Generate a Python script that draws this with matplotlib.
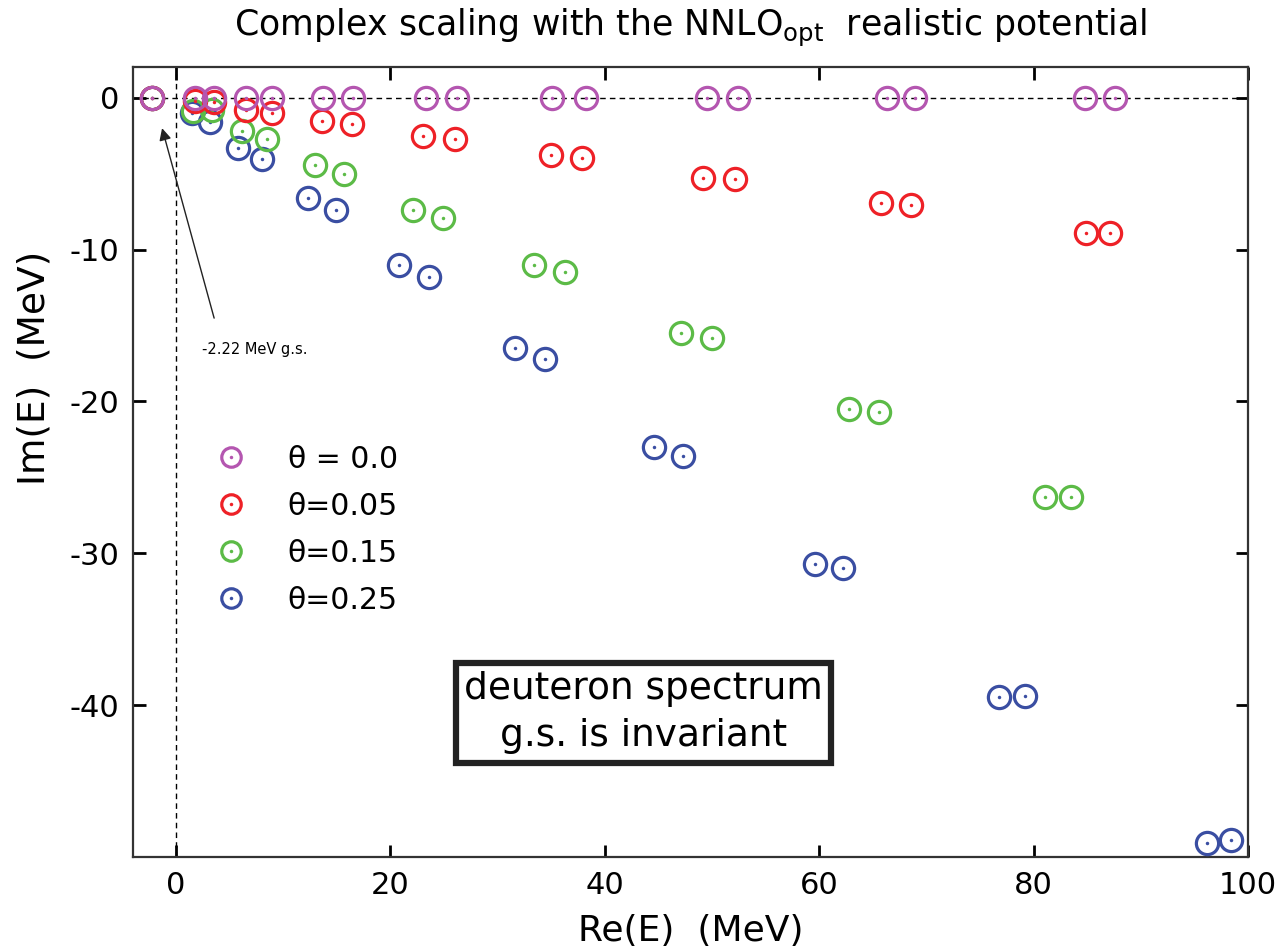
import matplotlib
matplotlib.use('Agg')
import matplotlib.pyplot as plt
from matplotlib.lines import Line2D

plt.rcParams['font.family'] = ['DejaVu Sans']
plt.rcParams['axes.unicode_minus'] = False

# Complex-scaled deuteron spectrum, Re(E) / Im(E) in MeV.
gs_energy = -2.22

re_t000 = [1.8, 3.5, 6.5, 9.0, 13.7, 16.5, 23.3, 26.2, 35.1, 38.2, 49.5, 52.4, 66.3, 68.9, 84.8, 87.6]
im_t000 = [0.0] * 16

re_t005 = [1.8, 3.5, 6.5, 9.0, 13.6, 16.4, 23.0, 26.0, 35.0, 37.9, 49.2, 52.1, 65.8, 68.6, 84.9, 87.1]
im_t005 = [-0.2, -0.3, -0.8, -1.0, -1.5, -1.7, -2.5, -2.7, -3.75, -3.95, -5.25, -5.35, -6.95, -7.05, -8.9, -8.9]

re_t015 = [1.6, 3.4, 6.2, 8.5, 13.0, 15.7, 22.1, 24.9, 33.4, 36.3, 47.1, 50.0, 62.8, 65.6, 81.1, 83.5]
im_t015 = [-0.9, -0.8, -2.2, -2.7, -4.4, -5.0, -7.4, -7.9, -11.0, -11.5, -15.5, -15.8, -20.5, -20.7, -26.3, -26.3]

re_t025 = [1.5, 3.2, 5.8, 8.0, 12.3, 14.9, 20.8, 23.6, 31.6, 34.4, 44.6, 47.3, 59.6, 62.2, 76.8, 79.2, 96.2, 98.4]
im_t025 = [-1.0, -1.6, -3.3, -4.0, -6.6, -7.4, -11.0, -11.8, -16.5, -17.2, -23.0, -23.6, -30.7, -31.0, -39.5, -39.4, -49.1, -48.9]

series = [
    (re_t000, im_t000, '#b456b0', 'θ = 0.0'),
    (re_t005, im_t005, '#ee2127', 'θ=0.05'),
    (re_t015, im_t015, '#5cbb47', 'θ=0.15'),
    (re_t025, im_t025, '#3a4ea2', 'θ=0.25'),
]

fig = plt.figure(figsize=(12.8, 9.5), dpi=100)
ax = fig.add_axes([0.104, 0.098, 0.871, 0.831])

ax.axhline(0, color='black', lw=1.0, ls=(0, (4, 3)), zorder=1)
ax.axvline(0, color='black', lw=1.0, ls=(0, (4, 3)), zorder=1)

ring = dict(marker='o', ls='none', mfc='none', mew=2.3)
dot = dict(marker='o', ls='none', ms=2.5, mew=0)

handles = []
for i, (re, im, color, label) in enumerate(series):
    z = 10 - 2 * i  # theta = 0 drawn on top, like the original
    # bound state is the same point for every angle
    ax.plot([gs_energy] + re, [0.0] + im, color=color, ms=16, zorder=z, **ring)
    ax.plot([gs_energy] + re, [0.0] + im, color=color, zorder=z + 1, **dot)
    handles.append((Line2D([], [], color=color, ms=14, **ring),
                    Line2D([], [], color=color, **dot)))

ax.legend(handles, [s[3] for s in series], loc='upper left',
          bbox_to_anchor=(0.045, 0.556), frameon=False, fontsize=21.5,
          handlelength=1.4, handletextpad=1.2, labelspacing=0.6)

ax.annotate('-2.22 MeV g.s.', xy=(-1.3, -2.0), xytext=(2.4, -16.6),
            fontsize=10.5, ha='left', va='center',
            arrowprops=dict(arrowstyle='-|>', color='#222222', lw=1.0,
                            shrinkA=16, shrinkB=0, mutation_scale=18,
                            relpos=(0.2, 0.5)))

ax.text(43.6, -40.5, 'deuteron spectrum\ng.s. is invariant', fontsize=27,
        ha='center', va='center', linespacing=1.4,
        bbox=dict(boxstyle='square,pad=0.22', fc='white', ec='#222222', lw=4.5))

ax.set_xlim(-4, 100)
ax.set_ylim(-50, 2)
ax.set_xticks([0, 20, 40, 60, 80, 100])
ax.set_yticks([0, -10, -20, -30, -40])
ax.tick_params(direction='in', length=9, width=2, top=True, right=True,
               labelsize=22, pad=10)
for sp in ax.spines.values():
    sp.set_linewidth(1.6)
    sp.set_color('#333333')

ax.set_xlabel('Re(E)  (MeV)', fontsize=26, labelpad=10)
ax.set_ylabel('Im(E)  (MeV)', fontsize=27)
ax.yaxis.set_label_coords(-0.072, 0.62)
ax.set_title(r'Complex scaling with the NNLO$_{\mathregular{opt}}$  realistic potential',
             fontsize=25, pad=23)

fig.savefig('out.png', dpi=100)
